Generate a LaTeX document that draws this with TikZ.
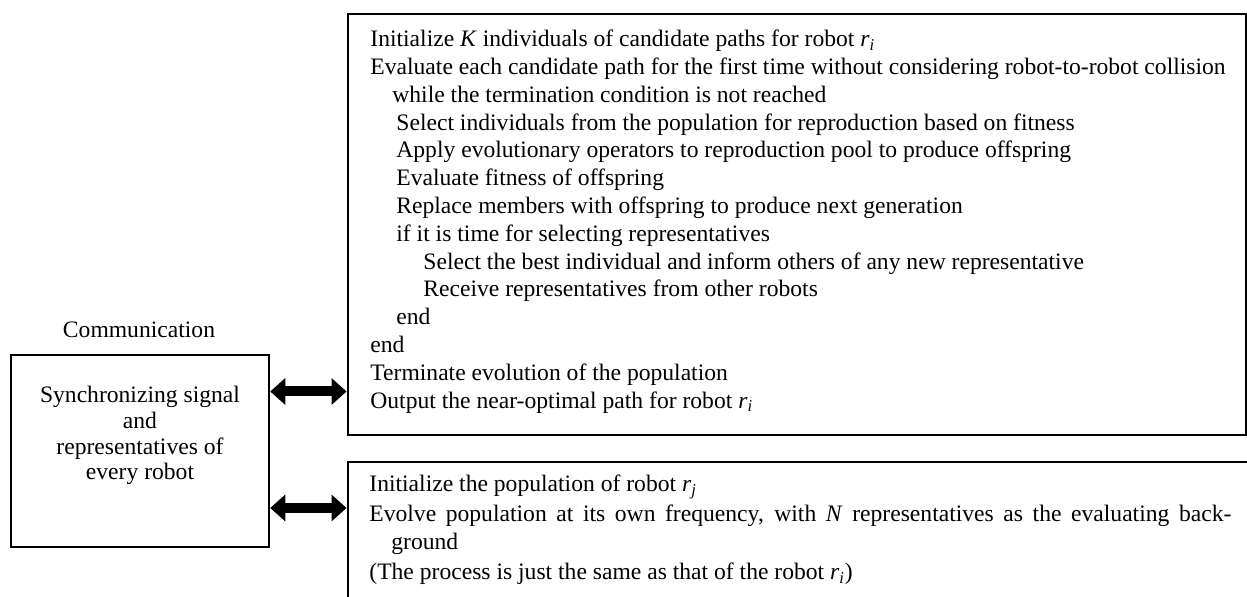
\documentclass[tikz,border=0pt]{standalone}
\usepackage{fontspec}
\setmainfont{Liberation Serif}
\usetikzlibrary{arrows.meta,fit}
\newcommand{\robotsub}[1]{\textit{r}\textsubscript{\textit{#1}}}
\tikzset{
  box/.style={draw=black, line width=1pt, inner sep=0pt, rectangle},
  txt/.style={anchor=base west, inner sep=0pt, font=\fontsize{11.8pt}{13.9pt}\selectfont},
  ctxt/.style={anchor=base, inner sep=0pt, font=\fontsize{11.8pt}{13.9pt}\selectfont},
  dblarrow/.style={line width=5pt,
    {Triangle[width=13.5pt,length=7.5pt,line width=0pt]}-{Triangle[width=13.5pt,length=7.5pt,line width=0pt]}}
}
\begin{document}
\begin{tikzpicture}[x=0.5pt,y=-0.5pt]
\useasboundingbox (0,0) rectangle (1247,597);
\clip (0,0) rectangle (1247,597);
% boxes
\node[box, fit={(347.5,14) (1245.5,435.5)}] (tbox) {};
\node[box, fit={(347.5,462.5) (1275,625)}] (bbox) {};
\node[box, fit={(10.7,355) (269.3,546.7)}] (lbox) {};
% top box text
\foreach \dx/\s [count=\k] in {
 0/{Initialize \textit{K} individuals of candidate paths for robot \robotsub{i}},
 0/{Evaluate each candidate path for the first time without considering robot-to-robot collision},
 22/{while the termination condition is not reached},
 26/{Select individuals from the population for reproduction based on fitness},
 26/{Apply evolutionary operators to reproduction pool to produce offspring},
 26/{Evaluate fitness of offspring},
 26/{Replace members with offspring to produce next generation},
 26/{if it is time for selecting representatives},
 53/{Select the best individual and inform others of any new representative},
 53/{Receive representatives from other robots},
 26/{end},
 0/{end},
 0/{Terminate evolution of the population},
 0/{Output the near-optimal path for robot \robotsub{i}}}{
  \node[txt] (t\k) at ({370+\dx},{46.7+27.8*(\k-1)}) {\s};
}
% bottom box text
\node[txt] (b1) at (369,491.7) {Initialize the population of robot \robotsub{j}};
\node[txt] (b2) at (369,521.7) {\makebox[431pt][s]{Evolve population at its own frequency, with \textit{N} representatives as the evaluating back-}};
\node[txt] (b3) at (391,550) {ground};
\node[txt] (b4) at (369,580) {(The process is just the same as that of the robot \robotsub{i})};
% left box text
\node[ctxt] (comm) at (139,338) {Communication};
\node[ctxt] (l1) at (140,403) {Synchronizing signal};
\node[ctxt] (l2) at (140,428.7) {and};
\node[ctxt] (l3) at (140,454.4) {representatives of};
\node[ctxt] (l4) at (140,480) {every robot};
% arrows
\coordinate (a1) at (0,391.5);
\coordinate (a2) at (0,508);
\draw[dblarrow] (lbox.east |- a1) -- (tbox.west |- a1);
\draw[dblarrow] (lbox.east |- a2) -- (bbox.west |- a2);
\end{tikzpicture}
\end{document}
